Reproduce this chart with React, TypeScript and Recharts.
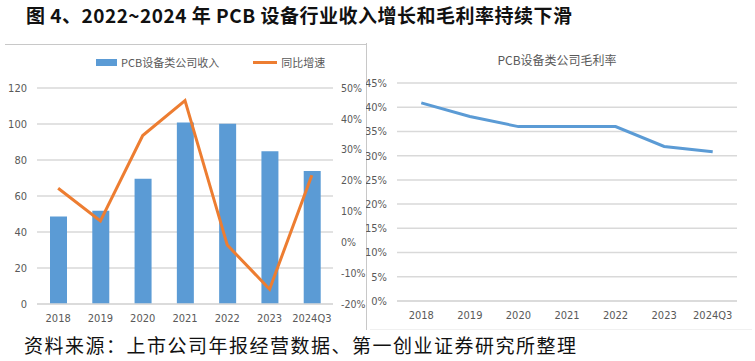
import React from "react"
import {
  Bar,
  CartesianGrid,
  ComposedChart,
  Legend,
  Line,
  LineChart,
  XAxis,
  YAxis,
} from "recharts"

const categories = ["2018", "2019", "2020", "2021", "2022", "2023", "2024Q3"]
const revenue = [48.6, 51.8, 69.6, 100.9, 100.1, 84.8, 73.9]
const yoyGrowth = [17.5, 6.9, 34.6, 45.9, -0.9, -15.2, 21.7]
const grossMargin = [40.9, 38.1, 36.0, 36.0, 36.0, 31.9, 30.8]

const revenueTicks = [0, 20, 40, 60, 80, 100, 120]
const growthTicks = [-20, -10, 0, 10, 20, 30, 40, 50]
const marginTicks = [0, 5, 10, 15, 20, 25, 30, 35, 40, 45]

const BLUE = "#5b9bd5"
const ORANGE = "#ed7d31"
const GRID = "#d9d9d9"
const TEXT = "#595959"
const TICK_FONT = "'Liberation Sans Narrow', 'DejaVu Sans Condensed', 'Noto Sans CJK SC', sans-serif"

const leftData = categories.map((name, i) => ({
  name,
  revenue: revenue[i],
  yoy: yoyGrowth[i],
}))

const rightData = categories.map((name, i) => ({
  name,
  margin: grossMargin[i],
}))

const tickStyle = { fill: TEXT, fontSize: 11, fontFamily: TICK_FONT }

function LeftLegend() {
  return (
    <div
      style={{
        display: "flex",
        alignItems: "center",
        fontSize: 11,
        color: TEXT,
        fontFamily: "'Noto Sans CJK SC', sans-serif",
        whiteSpace: "nowrap",
      }}
    >
      <span style={{ display: "inline-block", width: 21, height: 7, background: BLUE, marginRight: 4 }} />
      <span>PCB设备类公司收入</span>
      <span style={{ display: "inline-block", width: 24, height: 3, background: ORANGE, marginLeft: 34, marginRight: 4 }} />
      <span>同比增速</span>
    </div>
  )
}

export default function App() {
  return (
    <div
      style={{
        position: "absolute",
        left: 0,
        top: 0,
        width: 755,
        height: 361,
        background: "#fff",
        overflow: "hidden",
      }}
    >
      <div
        style={{
          position: "absolute",
          left: 26,
          top: 3,
          fontSize: 19,
          fontWeight: 700,
          letterSpacing: 0.5,
          fontFamily: "'Noto Sans CJK SC', sans-serif",
          color: "#111",
          whiteSpace: "nowrap",
          lineHeight: "24px",
        }}
      >
        图 4、2022~2024 年 PCB 设备行业收入增长和毛利率持续下滑
      </div>

      {/* panel frame lines */}
      <div style={{ position: "absolute", left: 5, top: 44, width: 361, height: 1, background: "#c8c8c8" }} />
      <div style={{ position: "absolute", left: 366, top: 43, width: 1, height: 287, background: "#c8c8c8" }} />
      <div style={{ position: "absolute", left: 370, top: 329, width: 382, height: 1, background: "#f0f0f0" }} />

      <div style={{ position: "absolute", left: 0, top: 0 }}>
        <ComposedChart
          width={366}
          height={332}
          data={leftData}
          margin={{ top: 72, right: 0, bottom: 0, left: 0 }}
        >
          <CartesianGrid yAxisId="left" vertical={false} stroke={GRID} strokeWidth={1.5} />
          <XAxis
            dataKey="name"
            height={28}
            tick={tickStyle}
            tickLine={false}
            axisLine={{ stroke: GRID, strokeWidth: 1.5 }}
            interval={0}
            tickMargin={4}
          />
          <YAxis
            yAxisId="left"
            width={37}
            domain={[0, 120]}
            ticks={revenueTicks}
            tick={tickStyle}
            tickLine={false}
            axisLine={false}
            tickMargin={4}
          />
          <YAxis
            yAxisId="right"
            orientation="right"
            width={33}
            domain={[-20, 50]}
            ticks={growthTicks}
            tick={{ ...tickStyle, fontSize: 10.5 }}
            tickLine={false}
            axisLine={false}
            tickMargin={2}
            tickFormatter={(v) => `${v}%`}
          />
          <Legend
            verticalAlign="top"
            content={() => <LeftLegend />}
            wrapperStyle={{ position: "absolute", top: 54, left: 96, width: "auto" }}
          />
          <Bar yAxisId="left" dataKey="revenue" fill={BLUE} barSize={17} isAnimationActive={false} />
          <Line
            yAxisId="right"
            dataKey="yoy"
            stroke={ORANGE}
            strokeWidth={3}
            dot={false}
            type="linear"
            isAnimationActive={false}
          />
        </ComposedChart>
      </div>

      <div
        style={{
          position: "absolute",
          left: 366,
          top: 51,
          width: 382,
          textAlign: "center",
          fontSize: 12,
          color: TEXT,
          fontFamily: "'Noto Sans CJK SC', sans-serif",
        }}
      >
        PCB设备类公司毛利率
      </div>

      <div style={{ position: "absolute", left: 366, top: 0 }}>
        <LineChart
          width={389}
          height={332}
          data={rightData}
          margin={{ top: 83, right: 18, bottom: 0, left: 0 }}
        >
          <CartesianGrid vertical={false} stroke={GRID} strokeWidth={1.5} />
          <XAxis
            dataKey="name"
            scale="band"
            height={31}
            tick={tickStyle}
            tickLine={false}
            axisLine={{ stroke: GRID, strokeWidth: 1.5 }}
            interval={0}
            tickMargin={4}
          />
          <YAxis
            width={31}
            domain={[0, 45]}
            ticks={marginTicks}
            tick={tickStyle}
            tickLine={false}
            axisLine={false}
            tickMargin={4}
            tickFormatter={(v) => `${v}%`}
          />
          <Line
            dataKey="margin"
            stroke={BLUE}
            strokeWidth={3}
            dot={false}
            type="linear"
            isAnimationActive={false}
          />
        </LineChart>
      </div>

      <div
        style={{
          position: "absolute",
          left: 24,
          top: 333,
          fontSize: 19,
          letterSpacing: 1.5,
          fontFamily: "'Noto Sans CJK SC', sans-serif",
          color: "#111",
          whiteSpace: "nowrap",
          lineHeight: "24px",
        }}
      >
        资料来源：上市公司年报经营数据、第一创业证券研究所整理
      </div>
    </div>
  )
}
